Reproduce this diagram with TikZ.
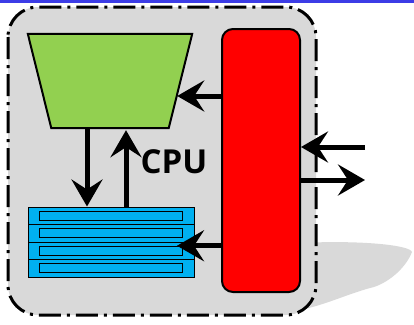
\documentclass[tikz,border=0pt]{standalone}
\usepackage{fontspec}
\setsansfont{Open Sans}
\usetikzlibrary{arrows.meta,positioning}
\definecolor{boxgray}{RGB}{217,217,217}
\definecolor{alugreen}{RGB}{146,208,80}
\definecolor{regblue}{RGB}{0,176,240}
\definecolor{topblue}{RGB}{60,60,230}
\tikzset{
  bigarrow/.style={line width=5pt, -{Stealth[length=27pt,width=31pt,inset=10pt]}},
  regrow/.style={draw, line width=1pt, fill=regblue, minimum width=166pt, minimum height=17.5pt, inner sep=0pt},
  regbar/.style={draw, line width=1pt, fill=regblue, minimum width=143pt, minimum height=9pt, inner sep=0pt},
}
\begin{document}
\begin{tikzpicture}[x=1pt, y=-1pt]
    \useasboundingbox (0,0) rectangle (414,324);
    \fill[topblue] (0,0) rectangle (414,2.5);
    % shadow behind the chip
    \fill[gray!30] (300,243) .. controls (360,240) and (410,245) .. (412,252)
        .. controls (405,270) and (385,285) .. (370,288)
        .. controls (345,295) and (325,305) .. (300,310) -- cycle;
    \draw[fill=boxgray, line width=3pt, rounded corners=30pt, dash pattern=on 22pt off 6pt on 3pt off 6pt] (8,7) rectangle (316,315);
    \node[minimum width=164pt, minimum height=94pt, inner sep=0pt] (alu) at (110,81) {};
    \draw[line width=2pt, fill=alugreen] (alu.north west) -- (alu.north east)
        -- ([xshift=-23.5pt]alu.south east) -- ([xshift=23.5pt]alu.south west) -- cycle;
    \node[draw, line width=2pt, fill=red, rounded corners=11pt, minimum width=78pt, minimum height=263pt, inner sep=0pt] (bus) at (261,160.5) {};
    \foreach \i in {1,...,4}{
        \node[regrow] (reg\i) at (111,{198.25+\i*17.5}) {};
        \node[regbar] (bar\i) at (reg\i) {};
    }
    \node[font=\sffamily\bfseries\fontsize{33}{33}\selectfont, inner sep=0pt] (cpu) at (174,161.5) {CPU};
    \coordinate (in) at (365,147);
    \coordinate (out) at (365,180);
    \draw[bigarrow] (bus.west |- 0,96) -- ([xshift=-15pt]alu.east |- 0,96);
    \draw[bigarrow] (alu.south -| 87,0) -- (reg1.north -| 87,0);
    \draw[bigarrow] (reg1.north -| 126,0) -- ([yshift=-2pt]alu.south -| 126,0);
    \draw[bigarrow] (bus.west |- bar3.north east) -- ([xshift=-6pt]bar3.north east);
    \draw[bigarrow] (in) -- (bus.east |- in);
    \draw[bigarrow] (bus.east |- out) -- (out);
\end{tikzpicture}
\end{document}
